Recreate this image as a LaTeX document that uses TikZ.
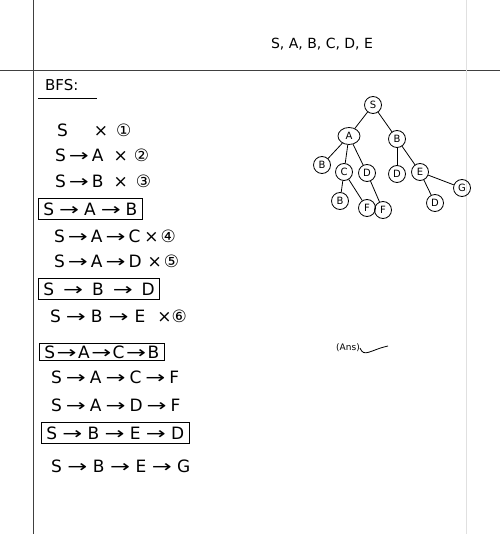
\documentclass[tikz,border=0pt]{standalone}
\usepackage{fontspec}
\usetikzlibrary{shapes.geometric}
\setmainfont{DejaVu Sans}
\newcommand{\arw}[1][3pt]{\hspace{#1}\scalebox{1.4}[1]{→}\hspace{#1}}
\begin{document}
\begin{tikzpicture}[x=1pt,y=-1pt,
  rule/.style={line width=0.9pt,black!75},
  row/.style={anchor=west,font=\fontsize{17}{17}\selectfont,inner sep=0pt},
  boxrow/.style={row,draw,line width=0.8pt,inner xsep=5pt,inner ysep=4pt},
  tn/.style={draw,circle,line width=0.8pt,inner sep=0pt,minimum size=17pt,font=\fontsize{10}{10}\selectfont},
  edge/.style={line width=0.8pt}]
\useasboundingbox (0,0) rectangle (500,534);
% ruled paper lines
\coordinate (vt) at (33,0); \coordinate (vb) at (33,534);
\coordinate (hl) at (0,70); \coordinate (hr) at (500,70);
\coordinate (ft) at (466,0); \coordinate (fb) at (466,534);
\draw[rule] (vt) -- (vb);
\draw[rule] (hl) -- (hr);
\draw[black!12,line width=0.6pt] (ft) -- (fb);
% header
\node[font=\fontsize{14}{14}\selectfont] (hdr) at (322,44) {S, A, B, C, D, E};
\node[anchor=west,font=\fontsize{15}{15}\selectfont,inner sep=0pt] (bfs) at (45,85) {BFS:};
\coordinate (ul1) at (38,98); \coordinate (ul2) at (97,98);
\draw[line width=0.8pt] (ul1) -- (ul2);
% rows
\node[row] (r1) at (57,130) {S\hspace{26pt}×\hspace{8pt}①};
\node[row] (r2) at (55,155) {S\arw A\hspace{10pt}×\hspace{6pt}②};
\node[row] (r3) at (55,181) {S\arw B\hspace{10pt}×\hspace{8pt}③};
\node[boxrow] (r4) at (38,209) {S\arw[5pt]A\arw[5pt]B};
\node[row] (r5) at (54,236) {S\arw A\arw C\hspace{4pt}×\hspace{2pt}④};
\node[row] (r6) at (54,261) {S\arw A\arw D\hspace{6pt}×\hspace{2pt}⑤};
\node[boxrow] (r7) at (38,289) {S\arw[9pt]B\arw[9pt]D};
\node[row] (r8) at (50,316) {S\arw[5pt]B\arw[6pt]E\hspace{12pt}×⑥};
\node[boxrow,inner ysep=2pt] (r9) at (39,352) {S\arw[1.5pt]A\arw[1.5pt]C\arw[1.5pt]B};
\node[row] (r10) at (51,377) {S\arw[4pt]A\arw[4pt]C\arw[4pt]F};
\node[row] (r11) at (51,405) {S\arw[4pt]A\arw[4pt]D\arw[4pt]F};
\node[boxrow] (r12) at (41,433) {S\arw[5.3pt]B\arw[5.3pt]E\arw[5.3pt]D};
\node[row] (r13) at (51,466) {S\arw[5.5pt]B\arw[5.5pt]E\arw[5.5pt]G};
% tree
\node[tn] (s) at (373,105) {S};
\node[tn,ellipse,minimum width=22pt] (a) at (349,136) {A};
\node[tn] (b) at (397,139) {B};
\node[tn] (ab) at (322,165) {B};
\node[tn] (ac) at (344,172) {C};
\node[tn] (ad) at (367,173) {D};
\node[tn] (bd) at (397,174) {D};
\node[tn] (be) at (420,172) {E};
\node[tn] (eg) at (462,188) {G};
\node[tn] (cb) at (340,201) {B};
\node[tn] (cf) at (367,208) {F};
\node[tn] (df) at (383,210) {F};
\node[tn] (ed) at (435,203) {D};
\draw[edge] (s) -- (a);
\draw[edge] (s) -- (b);
\draw[edge] (a) -- (ab);
\draw[edge] (a) -- (ac);
\draw[edge] (a) -- (ad);
\draw[edge] (b) -- (bd);
\draw[edge] (b) -- (be);
\draw[edge] (be) -- (eg);
\draw[edge] (be) -- (ed);
\draw[edge] (ac) -- (cb);
\draw[edge] (ac) -- (cf);
\draw[edge] (ad) -- (df);
% answer mark
\node[font=\fontsize{9}{9}\selectfont,inner sep=0pt] (ans) at (348,348) {(Ans)};
\coordinate (ansend) at (388,346);
\draw[line width=0.8pt] (ans.east) .. controls (364,358) and (370,350) .. (ansend);
\end{tikzpicture}
\end{document}
